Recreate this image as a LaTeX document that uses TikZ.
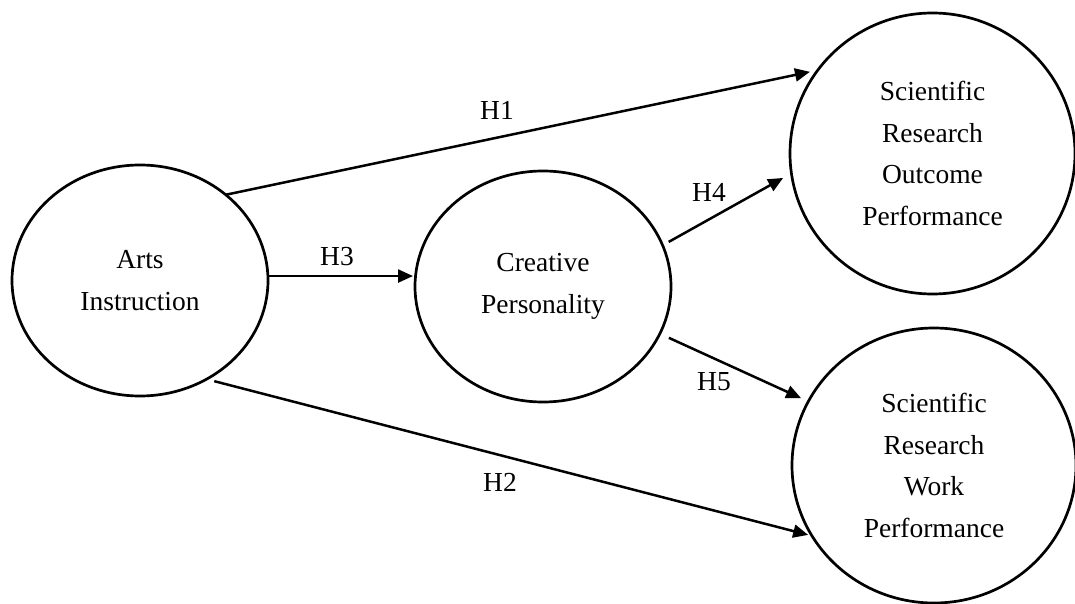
\documentclass[tikz,border=0pt]{standalone}
\usepackage{fontspec}
\setmainfont{Liberation Serif}
\usetikzlibrary{arrows.meta,shapes.geometric}
\begin{document}
\begin{tikzpicture}[x=1pt,y=-1pt,
  latent/.style={draw, ellipse, line width=2.7pt, inner sep=0pt, outer sep=0pt,
    align=center, font=\fontsize{27.5}{41.5}\selectfont},
  hypline/.style={line width=2.5pt, -{Triangle[length=15pt,width=13pt]}},
  hyp/.style={font=\fontsize{27.5}{33}\selectfont, inner sep=0pt}]
\useasboundingbox (0,0) rectangle (1075,604);
\fill[white] (0,0) rectangle (1075,604);

\node[latent, minimum width=256pt, minimum height=231pt] (arts) at (140,280.5) {Arts\\Instruction};
\node[latent, minimum width=256pt, minimum height=231pt] (creative) at (543,286.5) {Creative\\Personality};
\node[latent, minimum width=285pt, minimum height=281pt] (outcome) at (932.5,153.5) {Scientific\\Research\\Outcome\\Performance};
\node[latent, minimum width=284pt, minimum height=275pt] (work) at (934,465.5) {Scientific\\Research\\Work\\Performance};

\draw[hypline, shorten >=8pt] (arts.45.2) -- (outcome.144);
\draw[hypline, shorten <=8pt, shorten >=4pt] (arts.-56.9) -- (work.210.4);
\draw[hypline, shorten >=2pt] (arts.2.2) -- (arts.2.2 -| creative.west);
\draw[hypline, shorten <=7pt, shorten >=9.5pt] (creative.19.3) -- (outcome.188.6);
\draw[hypline, shorten <=10pt, shorten >=8pt] (creative.-22.1) -- (work.153.9);

\node[hyp] (h1) at (497,110) {H1};
\node[hyp] (h2) at (500,482) {H2};
\node[hyp] (h3) at (337,257) {H3};
\node[hyp] (h4) at (709,192) {H4};
\node[hyp] (h5) at (714,382) {H5};
\end{tikzpicture}
\end{document}
